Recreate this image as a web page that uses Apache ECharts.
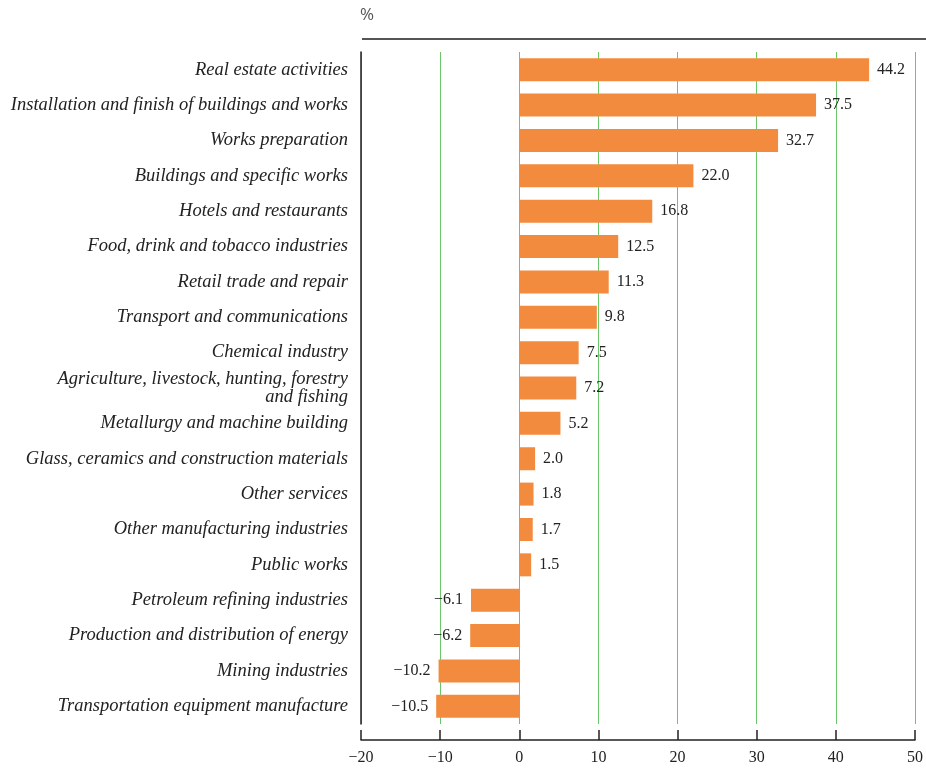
<!DOCTYPE html>
<html>
<head>
<meta charset="utf-8">
<script src="https://cdn.jsdelivr.net/npm/echarts@6/dist/echarts.min.js"></script>
<style>
  html, body { margin: 0; padding: 0; background: #fff; }
  #chart { width: 926px; height: 768px; }
</style>
</head>
<body>
<div id="chart"></div>
<script>
// Sectors, top to bottom
const sectors = [
  'Real estate activities',
  'Installation and finish of buildings and works',
  'Works preparation',
  'Buildings and specific works',
  'Hotels and restaurants',
  'Food, drink and tobacco industries',
  'Retail trade and repair',
  'Transport and communications',
  'Chemical industry',
  'Agriculture, livestock, hunting, forestry\nand fishing',
  'Metallurgy and machine building',
  'Glass, ceramics and construction materials',
  'Other services',
  'Other manufacturing industries',
  'Public works',
  'Petroleum refining industries',
  'Production and distribution of energy',
  'Mining industries',
  'Transportation equipment manufacture'
];

// Change, %
const changes = [44.2, 37.5, 32.7, 22.0, 16.8, 12.5, 11.3, 9.8, 7.5, 7.2, 5.2, 2.0, 1.8, 1.7, 1.5, -6.1, -6.2, -10.2, -10.5];

// Value axis
const axisMin = -20;
const axisMax = 50;
const axisStep = 10;

const serif = '"Liberation Serif", "DejaVu Serif", serif';
const fmt = v => (v < 0 ? '\u2212' : '') + Math.abs(v).toFixed(1);

const chart = echarts.init(document.getElementById('chart'));
chart.setOption({
  animation: false,
  grid: [
    { left: 361, right: 11, top: 52, bottom: 44, containLabel: false, outerBoundsMode: 'none' },
    { left: 361, right: 11, top: 730, height: 10, containLabel: false, outerBoundsMode: 'none' }
  ],
  xAxis: [
    {
      gridIndex: 0, type: 'value', min: axisMin, max: axisMax, interval: axisStep,
      axisLine: { show: false }, axisTick: { show: false }, axisLabel: { show: false },
      splitLine: { show: true, lineStyle: { color: '#6cc66c', width: 1 } }
    },
    {
      gridIndex: 1, type: 'value', min: axisMin, max: axisMax, interval: axisStep,
      position: 'bottom',
      axisLine: { show: true, lineStyle: { color: '#222', width: 1.5 } },
      axisTick: { show: true, inside: true, length: 10, lineStyle: { color: '#222', width: 1.5 } },
      axisLabel: {
        margin: 10, color: '#222', fontFamily: serif, fontSize: 16,
        formatter: v => (v < 0 ? '\u2212' : '') + Math.abs(v)
      },
      splitLine: { show: false }
    }
  ],
  yAxis: [
    {
      gridIndex: 0, type: 'category', inverse: true, data: sectors,
      axisLine: { show: true, onZero: false, lineStyle: { color: '#222', width: 1.5 } },
      axisTick: { show: false },
      axisLabel: {
        margin: 13, color: '#222', fontFamily: serif, fontStyle: 'italic',
        fontSize: 18.5, lineHeight: 18, align: 'right'
      }
    },
    { gridIndex: 1, type: 'value', show: false }
  ],
  series: [
    {
      type: 'bar',
      xAxisIndex: 0, yAxisIndex: 0,
      data: changes.map(v => ({
        value: v,
        label: { position: v < 0 ? 'left' : 'right' }
      })),
      barWidth: 23,
      itemStyle: { color: '#f38b3e' },
      label: {
        show: true, distance: 8, color: '#222', fontFamily: serif, fontSize: 16,
        formatter: p => fmt(p.value)
      }
    }
  ],
  graphic: [
    {
      type: 'line', shape: { x1: 362, y1: 39, x2: 926, y2: 39 },
      style: { stroke: '#555', lineWidth: 2 }
    },
    {
      type: 'text', left: 360, top: 7,
      style: { text: '%', fill: '#555', font: '17px "Open Sans", sans-serif' }
    }
  ]
});
</script>
</body>
</html>
